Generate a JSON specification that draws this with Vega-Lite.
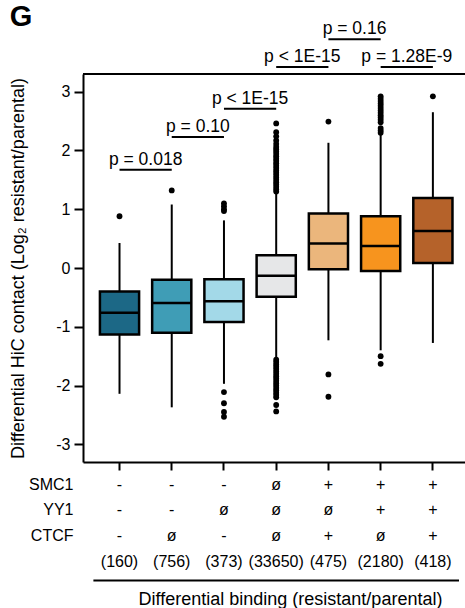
{
  "$schema": "https://vega.github.io/schema/vega-lite/v6.json",
  "padding": {"left": 9, "top": 3, "right": 0, "bottom": 0},
  "title": {"text": "G", "anchor": "start", "frame": "bounds", "fontSize": 29, "fontWeight": "bold", "color": "black", "font": "Liberation Sans", "offset": -12},
  "config": {
    "font": "Liberation Sans",
    "axis": {"labelColor": "black", "titleColor": "black", "labelFontSize": 16, "titleFontSize": 18, "titleFontWeight": "normal", "grid": false, "domain": false, "domainColor": "black", "domainWidth": 2, "tickColor": "black", "tickWidth": 2}
  },
  "datasets": {
    "boxes": [
      {"cat": "g1", "lo": -2.14, "q1": -1.13, "med": -0.76, "q3": -0.40, "hi": 0.425},
      {"cat": "g2", "lo": -2.37, "q1": -1.10, "med": -0.595, "q3": -0.20, "hi": 1.08},
      {"cat": "g3", "lo": -1.97, "q1": -0.92, "med": -0.566, "q3": -0.19, "hi": 0.81},
      {"cat": "g4", "lo": -1.53, "q1": -0.49, "med": -0.13, "q3": 0.216, "hi": 1.27},
      {"cat": "g5", "lo": -1.23, "q1": -0.02, "med": 0.415, "q3": 0.925, "hi": 2.13},
      {"cat": "g6", "lo": -1.40, "q1": -0.05, "med": 0.374, "q3": 0.88, "hi": 2.27},
      {"cat": "g7", "lo": -1.275, "q1": 0.085, "med": 0.63, "q3": 1.19, "hi": 2.65}
    ],
    "outliers": [
      {"cat": "g1", "v": 0.88},
      {"cat": "g2", "v": 1.32},
      {"cat": "g3", "v": 1.10}, {"cat": "g3", "v": 1.05}, {"cat": "g3", "v": 1.00}, {"cat": "g3", "v": 0.97},
      {"cat": "g3", "v": -2.11}, {"cat": "g3", "v": -2.30}, {"cat": "g3", "v": -2.45}, {"cat": "g3", "v": -2.53},
      {"cat": "g4", "v": 1.30}, {"cat": "g4", "v": 1.34}, {"cat": "g4", "v": 1.38}, {"cat": "g4", "v": 1.42},
      {"cat": "g4", "v": 1.46}, {"cat": "g4", "v": 1.50}, {"cat": "g4", "v": 1.54}, {"cat": "g4", "v": 1.58},
      {"cat": "g4", "v": 1.62}, {"cat": "g4", "v": 1.66}, {"cat": "g4", "v": 1.70}, {"cat": "g4", "v": 1.74},
      {"cat": "g4", "v": 1.78}, {"cat": "g4", "v": 1.82}, {"cat": "g4", "v": 1.86}, {"cat": "g4", "v": 1.90},
      {"cat": "g4", "v": 1.94}, {"cat": "g4", "v": 1.98}, {"cat": "g4", "v": 2.02}, {"cat": "g4", "v": 2.06},
      {"cat": "g4", "v": 2.11}, {"cat": "g4", "v": 2.17}, {"cat": "g4", "v": 2.24}, {"cat": "g4", "v": 2.31},
      {"cat": "g4", "v": 2.46},
      {"cat": "g4", "v": -1.56}, {"cat": "g4", "v": -1.60}, {"cat": "g4", "v": -1.64}, {"cat": "g4", "v": -1.68},
      {"cat": "g4", "v": -1.72}, {"cat": "g4", "v": -1.76}, {"cat": "g4", "v": -1.80}, {"cat": "g4", "v": -1.84},
      {"cat": "g4", "v": -1.88}, {"cat": "g4", "v": -1.92}, {"cat": "g4", "v": -1.96}, {"cat": "g4", "v": -2.00},
      {"cat": "g4", "v": -2.04}, {"cat": "g4", "v": -2.08}, {"cat": "g4", "v": -2.12}, {"cat": "g4", "v": -2.16},
      {"cat": "g4", "v": -2.20}, {"cat": "g4", "v": -2.33}, {"cat": "g4", "v": -2.44},
      {"cat": "g5", "v": 2.49}, {"cat": "g5", "v": -1.81}, {"cat": "g5", "v": -2.19},
      {"cat": "g6", "v": 2.30}, {"cat": "g6", "v": 2.34}, {"cat": "g6", "v": 2.38}, {"cat": "g6", "v": 2.48},
      {"cat": "g6", "v": 2.52}, {"cat": "g6", "v": 2.56}, {"cat": "g6", "v": 2.60}, {"cat": "g6", "v": 2.64},
      {"cat": "g6", "v": 2.68}, {"cat": "g6", "v": 2.72}, {"cat": "g6", "v": 2.76}, {"cat": "g6", "v": 2.80},
      {"cat": "g6", "v": 2.84}, {"cat": "g6", "v": 2.88}, {"cat": "g6", "v": 2.92},
      {"cat": "g6", "v": -1.50}, {"cat": "g6", "v": -1.63},
      {"cat": "g7", "v": 2.92}
    ],
    "ann": [
      {"c1": "g1", "c2": "g2", "y": 1.673, "label": "p = 0.018"},
      {"c1": "g2", "c2": "g3", "y": 2.228, "label": "p = 0.10"},
      {"c1": "g3", "c2": "g4", "y": 2.711, "label": "p < 1E-15"},
      {"c1": "g4", "c2": "g5", "y": 3.418, "label": "p < 1E-15"},
      {"c1": "g6", "c2": "g7", "y": 3.418, "label": "p = 1.28E-9"},
      {"c1": "g5", "c2": "g6", "y": 3.889, "label": "p = 0.16"}
    ],
    "frame": [{"top": 3.3}],
    "table": [
      {"cat": "g1", "r": "SMC1", "s": "-"}, {"cat": "g1", "r": "YY1", "s": "-"}, {"cat": "g1", "r": "CTCF", "s": "-"}, {"cat": "g1", "r": "n", "s": "(160)"},
      {"cat": "g2", "r": "SMC1", "s": "-"}, {"cat": "g2", "r": "YY1", "s": "-"}, {"cat": "g2", "r": "CTCF", "s": "ø"}, {"cat": "g2", "r": "n", "s": "(756)"},
      {"cat": "g3", "r": "SMC1", "s": "-"}, {"cat": "g3", "r": "YY1", "s": "ø"}, {"cat": "g3", "r": "CTCF", "s": "-"}, {"cat": "g3", "r": "n", "s": "(373)"},
      {"cat": "g4", "r": "SMC1", "s": "ø"}, {"cat": "g4", "r": "YY1", "s": "ø"}, {"cat": "g4", "r": "CTCF", "s": "ø"}, {"cat": "g4", "r": "n", "s": "(33650)"},
      {"cat": "g5", "r": "SMC1", "s": "+"}, {"cat": "g5", "r": "YY1", "s": "ø"}, {"cat": "g5", "r": "CTCF", "s": "+"}, {"cat": "g5", "r": "n", "s": "(475)"},
      {"cat": "g6", "r": "SMC1", "s": "+"}, {"cat": "g6", "r": "YY1", "s": "+"}, {"cat": "g6", "r": "CTCF", "s": "ø"}, {"cat": "g6", "r": "n", "s": "(2180)"},
      {"cat": "g7", "r": "SMC1", "s": "+"}, {"cat": "g7", "r": "YY1", "s": "+"}, {"cat": "g7", "r": "CTCF", "s": "+"}, {"cat": "g7", "r": "n", "s": "(418)"}
    ],
    "line": [{"c1": "g1", "c2": "g7", "r": "n"}]
  },
  "bounds": "flush",
  "spacing": 10,
  "vconcat": [
    {
      "width": 396,
      "height": 388,
      "view": {"stroke": null},
      "layer": [
        {
          "data": {"name": "boxes"},
          "mark": {"type": "rule", "strokeWidth": 2, "color": "black"},
          "encoding": {
            "x": {"field": "cat", "type": "nominal", "scale": {"type": "band", "domain": ["g1","g2","g3","g4","g5","g6","g7"], "paddingInner": 0, "paddingOuter": 0.291, "align": 0.342},
                  "axis": {"labels": false, "title": null, "tickSize": 8, "domain": true}},
            "y": {"field": "lo", "type": "quantitative", "scale": {"domain": [-3.3, 3.3], "nice": false, "zero": false},
                  "axis": {"values": [-3, -2, -1, 0, 1, 2, 3], "domain": true, "tickSize": 9, "labelPadding": 4, "title": "Differential HiC contact (Log₂ resistant/parental)", "titlePadding": 28,
                           "labelExpr": "datum.value < 0 ? '-' + abs(datum.value) : '' + datum.value"}},
            "y2": {"field": "hi"}
          }
        },
        {
          "data": {"name": "frame"},
          "mark": {"type": "rule", "strokeWidth": 2, "color": "black"},
          "encoding": {
            "y": {"field": "top", "type": "quantitative"}
          }
        },
        {
          "data": {"name": "boxes"},
          "mark": {"type": "bar", "width": {"band": 0.75}, "stroke": "black", "strokeWidth": 2.5},
          "encoding": {
            "x": {"field": "cat", "type": "nominal"},
            "y": {"field": "q1", "type": "quantitative"},
            "y2": {"field": "q3"},
            "fill": {"field": "cat", "type": "nominal", "legend": null,
                     "scale": {"domain": ["g1","g2","g3","g4","g5","g6","g7"], "range": ["#1c6886", "#3f9db6", "#a3d9e8", "#e6e7e8", "#ebb67c", "#f7941e", "#b5622a"]}}
          }
        },
        {
          "data": {"name": "boxes"},
          "mark": {"type": "tick", "color": "black", "thickness": 2.5, "size": 39, "orient": "horizontal", "opacity": 1},
          "encoding": {
            "x": {"field": "cat", "type": "nominal"},
            "y": {"field": "med", "type": "quantitative"}
          }
        },
        {
          "data": {"name": "outliers"},
          "mark": {"type": "circle", "color": "black", "opacity": 1, "size": 34},
          "encoding": {
            "x": {"field": "cat", "type": "nominal"},
            "y": {"field": "v", "type": "quantitative"}
          }
        },
        {
          "data": {"name": "ann"},
          "mark": {"type": "rule", "strokeWidth": 2, "color": "black"},
          "encoding": {
            "x": {"field": "c1", "type": "nominal"},
            "x2": {"field": "c2"},
            "y": {"field": "y", "type": "quantitative"}
          }
        },
        {
          "data": {"name": "ann"},
          "mark": {"type": "text", "fontSize": 17.5, "dy": -5, "baseline": "alphabetic", "color": "black"},
          "encoding": {
            "x": {"field": "c1", "type": "nominal", "bandPosition": 1},
            "y": {"field": "y", "type": "quantitative"},
            "text": {"field": "label"}
          }
        }
      ]
    },
    {
      "width": 396,
      "height": 108.5,
      "view": {"stroke": null},
      "layer": [
        {
          "data": {"name": "table"},
          "mark": {"type": "text", "fontSize": 16, "color": "black"},
          "encoding": {
            "x": {"field": "cat", "type": "nominal", "scale": {"type": "band", "domain": ["g1","g2","g3","g4","g5","g6","g7"], "paddingInner": 0, "paddingOuter": 0.291, "align": 0.342},
                  "axis": {"labels": false, "ticks": false, "domain": false, "title": "Differential binding (resistant/parental)", "titlePadding": 10, "titleX": 207}},
            "y": {"field": "r", "type": "nominal", "scale": {"type": "band", "domain": ["SMC1", "YY1", "CTCF", "n"], "paddingInner": 0, "paddingOuter": 0.12, "align": 0},
                  "axis": {"ticks": false, "domain": false, "labelPadding": 10, "title": null, "labelExpr": "datum.value == 'n' ? '' : datum.value"}},
            "text": {"field": "s"}
          }
        },
        {
          "data": {"name": "line"},
          "mark": {"type": "rule", "strokeWidth": 2, "color": "black"},
          "encoding": {
            "x": {"field": "c1", "type": "nominal", "bandPosition": 0},
            "x2": {"field": "c2", "bandPosition": 1},
            "y": {"field": "r", "type": "nominal", "bandPosition": 1.24}
          }
        }
      ]
    }
  ]
}
